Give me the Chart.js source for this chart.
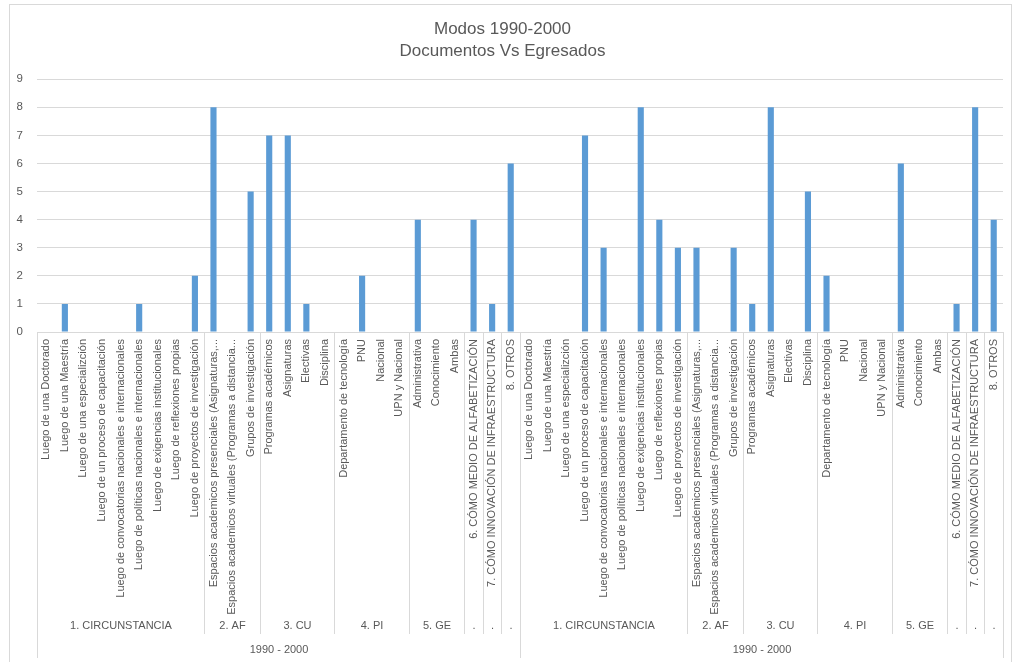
<!DOCTYPE html>
<html>
<head>
<meta charset="utf-8">
<script src="https://cdn.jsdelivr.net/npm/chart.js@4"></script>
<style>
    html, body { margin: 0; padding: 0; background: #ffffff; }
    #wrap { position: relative; width: 1014px; height: 662px; }
</style>
</head>
<body>
<div id="wrap"><canvas id="chart"></canvas></div>
<script>
// level 1: item names (same list in each half)
const items = [
    'Luego de una Doctorado',
    'Luego de una Maestría',
    'Luego de una especializción',
    'Luego de un proceso de capacitación',
    'Luego de convocatorias nacionales e internacionales',
    'Luego de políticas nacionales e internacionales',
    'Luego de exigencias institucionales',
    'Luego de reflexiones propias',
    'Luego de proyectos de investigación',
    'Espacios academicos presenciales (Asignaturas,...',
    'Espacios academicos virtuales (Programas a distancia...',
    'Grupos de investigación',
    'Programas académicos',
    'Asignaturas',
    'Electivas',
    'Disciplina',
    'Departamento de tecnología',
    'PNU',
    'Nacional',
    'UPN y Nacional',
    'Administrativa',
    'Conocimiento',
    'Ambas',
    '6. CÓMO MEDIO DE ALFABETIZACIÓN',
    '7. CÓMO INNOVACIÓN DE INFRAESTRUCTURA',
    '8. OTROS'
];

// level 2: groups and how many items each one spans
const groupNames = ['1. CIRCUNSTANCIA', '2. AF', '3. CU', '4. PI', '5. GE', '.', '.', '.'];
const groupSizes = [9, 3, 4, 4, 3, 1, 1, 1];

// level 3: periods
const periods = ['1990 - 2000', '1990 - 2000'];

// values per half
const documentos = [0, 1, 0, 0, 0, 1, 0, 0, 2, 8, 0, 5, 7, 7, 1, 0, 0, 2, 0, 0, 4, 0, 0, 4, 1, 6];
const egresados  = [0, 0, 0, 7, 3, 0, 8, 4, 3, 3, 0, 3, 1, 8, 0, 5, 2, 0, 0, 0, 6, 0, 0, 1, 8, 4];

const labels = [...items, ...items];
const values = [...documentos, ...egresados];

const textColor = '#595959';
const lineColor = '#d9d9d9';
const fontFamily = "'Liberation Sans', Arial, sans-serif";

// draws the frame, the group separators and the lower label rows
const multiLevelAxis = {
    id: 'multiLevelAxis',
    beforeDraw(chart) {
        const ctx = chart.ctx;
        ctx.save();
        ctx.fillStyle = '#ffffff';
        ctx.fillRect(0, 0, chart.width, chart.height);
        ctx.strokeStyle = lineColor;
        ctx.lineWidth = 1;
        ctx.strokeRect(9.5, 4.5, chart.width - 12, chart.height - 4);
        ctx.restore();
    },
    afterDraw(chart) {
        const ctx = chart.ctx;
        const x = chart.scales.x;
        const step = (x.right - x.left) / labels.length;
        const edge = i => Math.round(x.getPixelForValue(i) - step / 2) + 0.5;

        const groupBottom = 634;
        const periodBottom = 658;
        const groupY = 626;
        const periodY = 650;

        ctx.save();
        ctx.strokeStyle = lineColor;
        ctx.lineWidth = 1;
        ctx.fillStyle = textColor;
        ctx.textAlign = 'center';
        ctx.textBaseline = 'middle';
        ctx.font = `11px ${fontFamily}`;

        let idx = 0;
        periods.forEach(period => {
            const start = idx;
            ctx.beginPath();
            ctx.moveTo(edge(idx), x.top);
            ctx.lineTo(edge(idx), periodBottom);
            ctx.stroke();

            groupNames.forEach((name, g) => {
                const from = idx;
                idx += groupSizes[g];
                const left = edge(from);
                const right = edge(idx);
                if (g > 0) {
                    ctx.beginPath();
                    ctx.moveTo(left, x.top);
                    ctx.lineTo(left, groupBottom);
                    ctx.stroke();
                }
                ctx.fillText(name, (left + right) / 2, groupY);
            });

            ctx.fillText(period, (edge(start) + edge(idx)) / 2, periodY);
        });

        ctx.beginPath();
        ctx.moveTo(edge(idx), x.top);
        ctx.lineTo(edge(idx), periodBottom);
        ctx.stroke();
        ctx.restore();
    }
};

new Chart(document.getElementById('chart'), {
    type: 'bar',
    data: {
        labels: labels,
        datasets: [{
            data: values,
            backgroundColor: '#5b9bd5',
            categoryPercentage: 1,
            barPercentage: 0.33
        }]
    },
    options: {
        responsive: true,
        maintainAspectRatio: false,
        animation: false,
        layout: { padding: { left: 0, right: 9, top: 0, bottom: 0 } },
        plugins: {
            legend: { display: false },
            tooltip: { enabled: false },
            title: {
                display: true,
                text: ['Modos 1990-2000', 'Documentos Vs Egresados'],
                color: textColor,
                font: { family: fontFamily, size: 17, weight: 'normal', lineHeight: 1.3 },
                padding: { top: 18, bottom: 17 }
            }
        },
        scales: {
            x: {
                grid: { display: false, drawTicks: false },
                border: { color: lineColor },
                ticks: {
                    autoSkip: false,
                    minRotation: 90,
                    maxRotation: 90,
                    padding: 7,
                    color: textColor,
                    font: { family: fontFamily, size: 11 }
                },
                afterFit(scale) {
                    scale.height = 330;
                }
            },
            y: {
                min: 0,
                max: 9,
                grid: { color: lineColor, drawTicks: false },
                border: { display: false },
                ticks: {
                    stepSize: 1,
                    padding: 14,
                    color: textColor,
                    font: { family: fontFamily, size: 11.5 }
                },
                afterFit(scale) {
                    scale.width = 37;
                }
            }
        }
    },
    plugins: [multiLevelAxis]
});
</script>
</body>
</html>
